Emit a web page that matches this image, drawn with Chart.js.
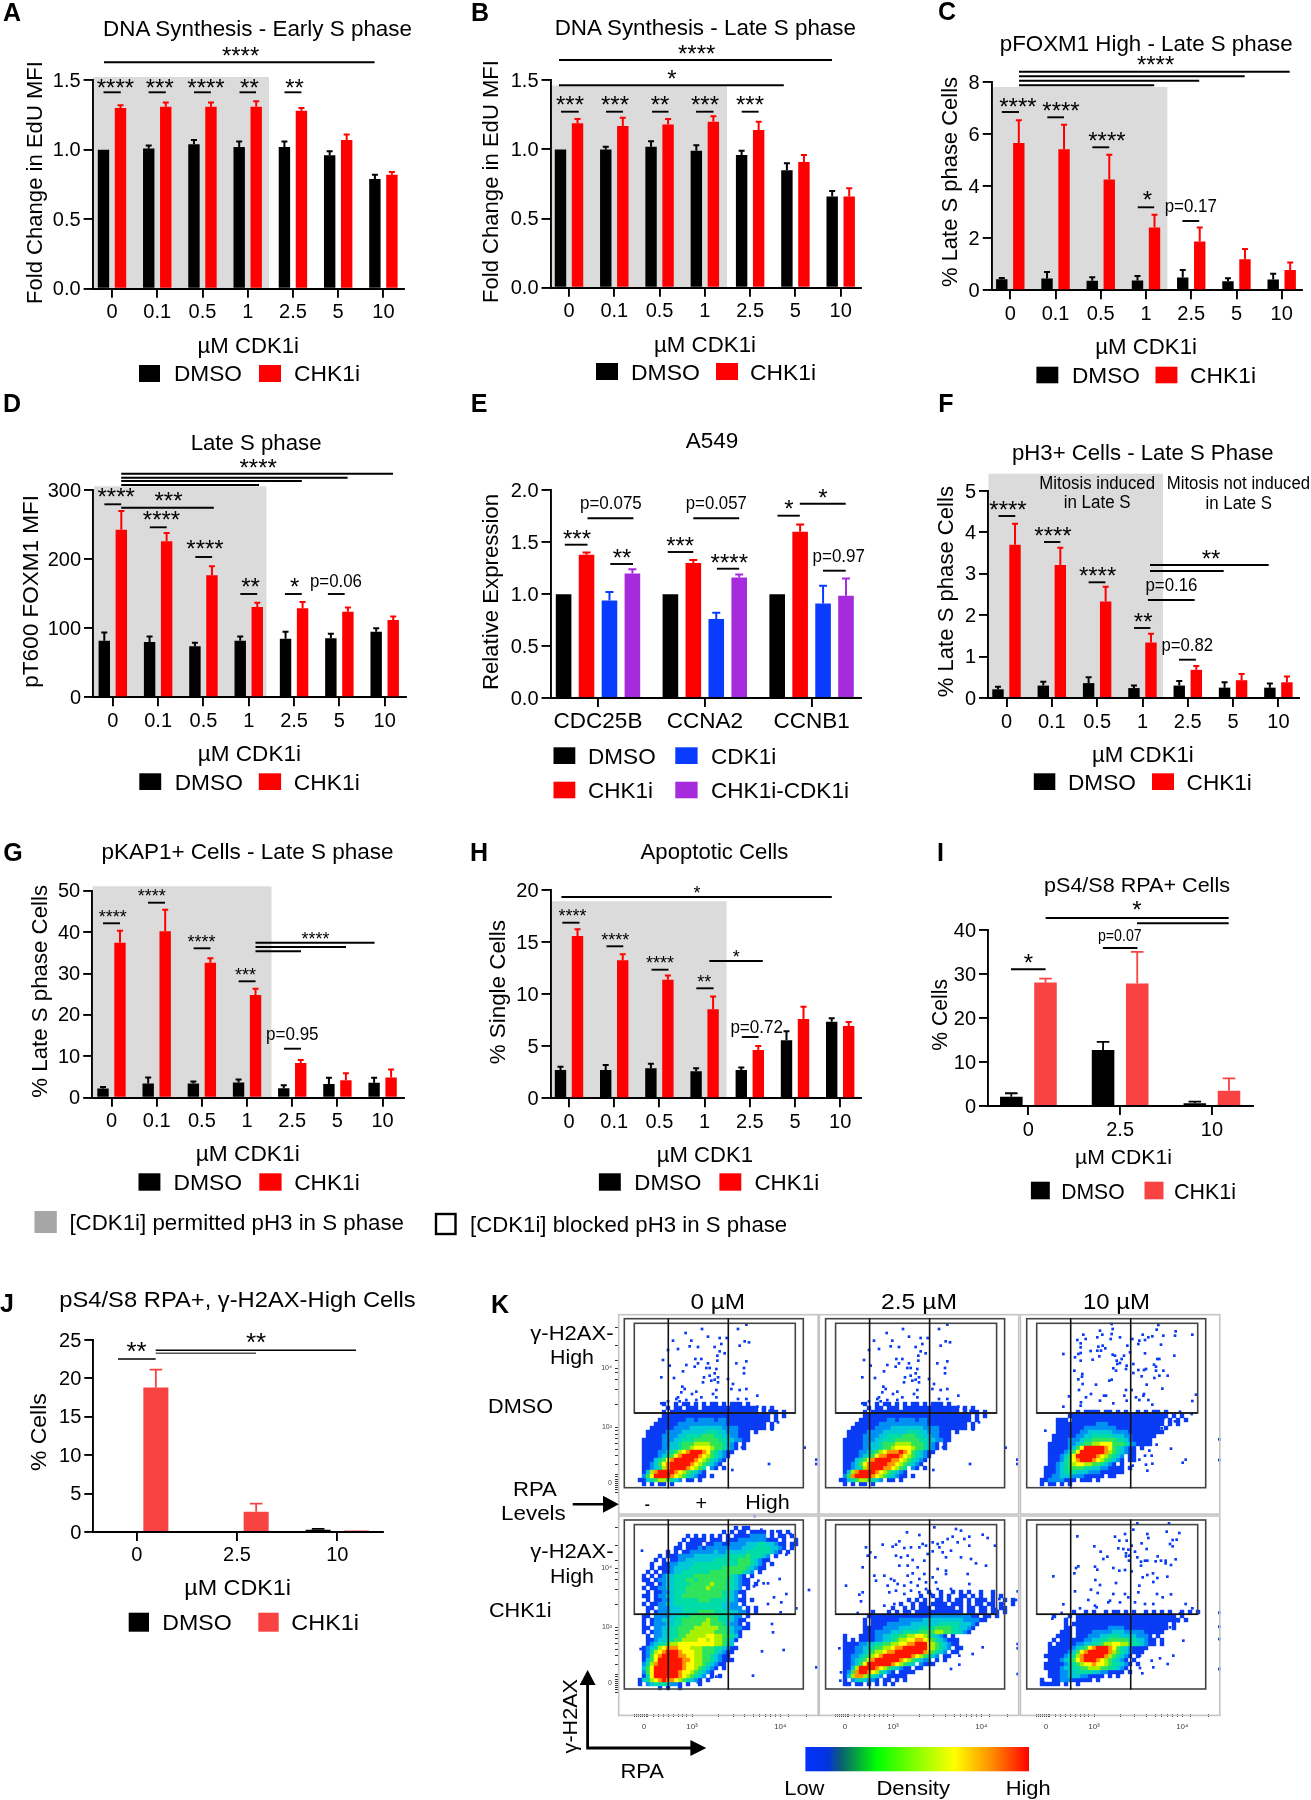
<!DOCTYPE html>
<html><head><meta charset="utf-8">
<style>
html,body{margin:0;padding:0;background:#fff}
#page{position:relative;width:1311px;height:1800px;overflow:hidden;background:#fff}
canvas{position:absolute}
svg{position:absolute;left:0;top:0;z-index:5}
text{font-family:"Liberation Sans",Arial,sans-serif;fill:#000}
</style>
<script src="https://cdn.jsdelivr.net/npm/chart.js@4/dist/chart.umd.js"></script>
</head><body><div id="page"><svg id="ov" width="1311" height="1800" xmlns="http://www.w3.org/2000/svg"></svg></div>
<script>
/* ---------- values ---------- */
const doses=['0','0.1','0.5','1','2.5','5','10'];
const doses3=['0','2.5','10'];
const genes=['CDC25B','CCNA2','CCNB1'];

const aTicks=['0.0','0.5','1.0','1.5'];
const aDmso=[1.0,1.01,1.04,1.02,1.02,0.96,0.79];
const aDmsoTop=[1.0,1.03,1.07,1.06,1.06,0.99,0.82];
const aChk=[1.30,1.31,1.31,1.31,1.28,1.07,0.82];
const aChkTop=[1.32,1.34,1.34,1.35,1.30,1.11,0.84];

const bTicks=['0.0','0.5','1.0','1.5'];
const bDmso=[1.0,1.0,1.02,0.99,0.96,0.85,0.66];
const bDmsoTop=[1.0,1.02,1.06,1.03,0.99,0.90,0.70];
const bChk=[1.19,1.17,1.18,1.20,1.14,0.91,0.66];
const bChkTop=[1.22,1.23,1.22,1.24,1.20,0.96,0.72];

const cTicks=['0','2','4','6','8'];
const cDmso=[0.42,0.45,0.37,0.38,0.49,0.35,0.41];
const cDmsoTop=[0.47,0.70,0.50,0.55,0.78,0.46,0.64];
const cChk=[5.66,5.42,4.26,2.41,1.87,1.19,0.78];
const cChkTop=[6.53,6.36,5.21,2.90,2.41,1.59,1.07];

const dTicks=['0','100','200','300'];
const dDmso=[82,80,74,82,85,85.5,95];
const dDmsoTop=[94,88,79,88,95,92,100];
const dChk=[243,226,177,131,129,124,112];
const dChkTop=[270,238,190,137,138,130,117];

const eTicks=['0.0','0.5','1.0','1.5','2.0'];
const eDmso=[1,1,1];
const eChk=[1.38,1.30,1.60];
const eChkTop=[1.40,1.33,1.67];
const eCdk=[0.94,0.76,0.91];
const eCdkTop=[1.02,0.82,1.08];
const eBoth=[1.20,1.16,0.985];
const eBothTop=[1.24,1.19,1.15];

const fTicks=['0','1','2','3','4','5'];
const fDmso=[0.21,0.30,0.36,0.24,0.30,0.25,0.25];
const fDmsoTop=[0.27,0.39,0.50,0.30,0.41,0.38,0.35];
const fChk=[3.70,3.21,2.33,1.34,0.68,0.43,0.38];
const fChkTop=[4.21,3.63,2.69,1.55,0.77,0.58,0.52];

const gTicks=['0','10','20','30','40','50'];
const gDmso=[2.2,3.4,3.4,3.7,2.3,3.3,3.6];
const gDmsoTop=[2.6,4.9,3.9,4.4,3.0,4.8,4.8];
const gChk=[37.4,40.2,32.6,24.8,8.4,4.2,4.9];
const gChkTop=[40.3,45.4,33.7,26.3,9.1,5.9,6.8];

const hTicks=['0','5','10','15','20'];
const hDmso=[2.72,2.72,2.88,2.6,2.72,5.58,7.37];
const hDmsoTop=[3.04,3.2,3.33,2.9,2.95,6.44,7.7];
const hChk=[15.6,13.27,11.4,8.56,4.65,7.63,6.96];
const hChkTop=[16.25,13.85,11.8,9.8,5.03,8.8,7.34];

const iTicks=['0','10','20','30','40'];
const iDmso=[2.1,12.75,0.6];
const iDmsoTop=[2.9,14.6,1.0];
const iChk=[28.1,27.9,3.5];
const iChkTop=[29,35.1,6.3];

const jTicks=['0','5','10','15','20','25'];
const jDmso=[0,0.1,0.3];
const jDmsoTop=[0,0.1,0.4];
const jChk=[18.8,2.65,0.2];
const jChkTop=[21.15,3.7,0.2];

/* flow plots: density level per 12-channel cell (row strings, level 1 low .. 9 high) + single events */
const flowFirstRow=22;
const flowDmso0Cells=[
'           1  1 11 1 1 11 1 111 1',
'            1 11 111 11111111111111 1 1',
'           1 1111111111111111111111 1 11 1',
'           111111111111111111111111111 1 1',
'          1111111221222212211111111111 1',
'         1111112222222222221111111111 1',
'        11111122223333333322221111111 1',
'       11111222233333344433222111 1',
'       11112222334444555443322111',
'      111112223344455555544332211',
'      111112233455566665554321 1',
'      111112233455677776554321 1',
'      11112234567899987543211',
'      1111234578999987654321',
'      111345789999987654321',
'      11235789999987654321',
'      1123468999987654 21 1',
'      1368999987654321',
'      2579999876543211 1',
'     11345665432 11 1',
'      1 1 11 1'];
const flowDmso0Dots=[[385,32],[252,45],[203,57],[360,45],[270,68],[305,72],[326,72],[165,80],[220,80],[380,82],[393,85],[310,90],[215,97],[240,99],[290,99],[365,95],[150,108],[180,105],[305,112],[320,118],[298,125],[135,138],[232,135],[250,135],[298,140],[385,142],[355,148],[240,148],[205,153],[155,155],[230,158],[270,148],[265,162],[275,162],[295,165],[378,162],[195,172],[290,178],[378,178],[130,190],[168,192],[258,190],[275,185],[300,190],[290,197],[330,195],[255,205],[280,200],[345,210],[300,205],[193,218],[200,225],[385,225],[365,228],[235,233],[295,228],[285,240],[222,240],[190,235],[340,225],[180,250],[250,250],[295,250],[360,255],[385,255],[418,245],[130,268],[150,262],[175,255],[185,262],[205,258],[235,258],[340,268],[360,275],[390,280],[418,278],[435,285],[455,290],[500,295],[480,325],[462,347],[372,400],[343,468],[453,450],[560,401],[595,437],[595,450]];
const flowDmso25Cells=[
'           1  1 11 1 1 11 1 111 1',
'            1 11 111 11111111111111 1 1',
'           1 1111111111111111111111 1 11 1',
'           111111111111111111111111111 1 1',
'          1111111221222212211111111111 1',
'         1111112222222222221111111111 1',
'        11111122223333333322221111111 1',
'       11111222233333344433222111 1',
'       11112222334444555443322111',
'      111112223344455555544332211',
'      111112233455566665554321 1',
'      111112233455677776554321 1',
'      11112234567888987543211',
'      1111234578899987654321',
'      111345789999887654321',
'      11235789999887654321',
'      1123468999887654 21 1',
'      1368999987654321',
'      2589999876543211 1',
'     11345665432 11 1',
'      1 1 11 1'];
const flowDmso25Dots=flowDmso0Dots;
const flowDmso10Cells=[
'',
'',
'              1 1111 11 1 1  1 1 11 1',
'            1111111111111111111111111 1 1',
'         111 11111111111111111111111 1 1 1',
'         111111111122211111111111111 1 1',
'         11111112222222211111111111 1',
'         111111223333332222111111111',
'        11111122334444433322111111',
'        1111222344555555443211111',
'       11111223455667775554321111',
'       1111123579999987543211 1',
'       1111235799999986543211',
'       1112357999998765432 11',
'       1112457899987654321 11',
'       11234567766554321 1',
'      11123455554433221111 1',
'      11123444333222111111',
'      112233322211111 11',
'     112222111 111 1',
'     1 11 1 1'];
const flowDmso10Dots=[[275,30],[415,33],[190,62],[240,50],[278,45],[410,47],[467,52],[517,62],[465,65],[430,65],[397,67],[385,70],[368,62],[275,60],[247,62],[232,70],[197,75],[172,78],[272,75],[300,70],[337,75],[358,80],[375,78],[355,90],[182,88],[182,100],[322,95],[423,92],[235,98],[248,95],[256,103],[212,111],[232,110],[243,110],[182,117],[175,120],[130,120],[375,118],[463,125],[165,130],[238,127],[278,122],[285,125],[312,125],[305,135],[330,115],[340,150],[412,135],[418,135],[182,140],[218,137],[290,140],[300,147],[320,155],[402,152],[408,158],[292,150],[280,163],[288,170],[318,165],[355,168],[378,165],[372,168],[408,170],[430,170],[340,177],[163,170],[187,180],[186,188],[418,185],[443,185],[365,187],[403,192],[175,196],[268,200],[275,197],[228,212],[188,210],[380,212],[427,224],[318,228],[177,228],[335,228],[348,250],[372,240],[370,245],[258,245],[252,245],[213,240],[198,250],[313,245],[528,242],[147,247],[517,261],[358,258],[385,258],[183,265],[240,260],[280,268],[320,260],[397,272],[130,278],[182,275],[480,293],[515,300],[465,322],[432,312],[425,343],[76,350],[410,392],[453,404],[388,410],[375,425],[358,437],[343,430],[395,425],[378,452],[397,449],[382,470],[338,455],[497,437],[488,446],[598,376],[598,438]];
const flowChk0FirstRow=3;
const flowChk0Cells=[
'                             1 11',
'                          1 1 11 1111 1 1 1',
'                 1 1 1 1 1 1 11112222 1 11 1',
'                1 1111 111 1112222222111 1  1',
'               1 1111 11221122223334433211 11',
'              11 1112122222222233344443321 1',
'            1 1 1122222232233333444444321 1',
'          1 11122223333333344444544432 1',
'         1 1 1122333333344444455543211',
'        1  11223333444444444445554321 1',
'        1 111233334444444455555543211',
'       1 1 11233444444455555555432 1',
'      1 1 1233444445555555554321 1',
'      11 122334445545555555443211',
'       11 12334444555556555443211 1',
'      1 11223344455555655554432 1',
'       1 11223444555555555443211',
'      11 122334455555555554432 1',
'       1 11223444444555444433211 1',
'      1 1122334444444444443322 1',
'       11 222333444444444433222 1 1',
'       1 122233344445555444433221 1',
'      11 2222334445555555444322 1',
'      1 122333445555556554433211',
'      1 12223344555556655543221 1',
'      11 223344555566666655432211',
'      1 12233445556666665554321',
'       1 2233445566666776655431',
'       11233445566667767665431',
'       1234456677777777766543',
'      123467888777666555443211',
'      12467899987776655543211',
'      1257899998877665543211',
'      13579999998876655432111',
'      246899999987766543211',
'      3579999999877654321 1',
'      257999999877654321',
'      1479999998765432 1 1',
'     1346789887654321 1',
'     1 234443221 1  1',
'          1 1  1'];
const flowChk0Dots=[[410,6],[72,110],[430,47],[517,60],[478,52],[505,122],[485,195],[421,200],[437,208],[450,208],[408,217],[573,228],[468,250],[505,240],[490,265],[450,270],[535,283],[488,295],[462,330],[465,355],[432,412],[497,408],[68,405],[595,460],[405,485],[295,488],[280,490],[240,505]];
const flowChk25FirstRow=19;
const flowChk25Cells=[
'                           1  1  1 1 1  1  1',
'                         1  1 1 1  11 1 1  1 1',
'                      1 1 1  11 1 11 1 111 1  1 1',
'                    1  1 11 1111 111 1 11 11 1  1',
'                  1  1 1 111 11111 1 11 11 1 11',
'             1   1 1 11 111111111111 11 11 11 1',
'            1111111111111111222222222211 11 1',
'           1 11111112222223333333333222211',
'           1 111122222233333334444433321',
'           1111122223333344445555443321',
'           111222233344445555665544321',
'      1   1111223344556677654321 1',
'      1 1 1111223345667788765432111',
'      11112233445566778899976543211',
'      111223345566788999999765432 11',
'      11122345667889999999865432 11',
'      112234567899999998765432 11',
'      1123457899999987654322 1 1',
'      112357999999876543 2111',
'      11369999876543211 11',
'      1258998764321 1111',
'      1368865432 11111',
'      1 2343221 11 1 1',
'      11 11 1 1 1 1'];
const flowChk25Dots=[[346,40],[264,55],[301,63],[411,45],[426,50],[451,68],[491,62],[506,72],[241,82],[191,92],[221,98],[231,92],[141,100],[528,95],[154,115],[146,125],[169,130],[256,102],[276,100],[231,125],[246,130],[266,125],[281,138],[301,100],[311,90],[321,95],[341,85],[356,90],[371,85],[386,75],[401,68],[416,85],[436,75],[451,95],[361,100],[371,115],[396,110],[426,130],[456,135],[471,148],[501,155],[131,160],[241,155],[266,155],[296,160],[316,140],[326,120],[341,112],[381,130],[356,165],[381,180],[446,180],[166,185],[196,185],[216,195],[226,200],[266,185],[281,178],[301,195],[316,180],[341,190],[81,215],[171,200],[206,215],[236,210],[256,215],[276,205],[296,215],[321,205],[351,205],[381,170],[451,210],[121,242],[131,235],[211,235],[231,230],[256,240],[276,230],[301,235],[321,225],[336,240],[356,225],[396,225],[126,262],[196,275],[226,270],[116,297],[541,255],[591,258],[596,232],[551,270],[531,285],[596,390],[596,403],[491,400],[461,420],[421,425],[396,465],[421,452],[596,480],[64,500],[61,403],[76,365],[66,475]];
const flowChk10FirstRow=24;
const flowChk10Cells=[
'             1  1 1  1 11 1 1  1 1 1 1  1 1 1',
'        1   1 1111111111111111111111111 1',
'           1  11111111111111111111111111 1',
'           1 111111111111111111111111 1',
'           11 11111111222211111111111 1',
'          111 1111222223332222211111',
'         1111 1112223344433332221 1',
'        1 111111223344555554433211 1',
'       1 1111122334456677665443211 1',
'       1111112345789998754321111',
'       111112357899999865432111',
'      1111123468999998654321 1',
'       11123457899987654321 1',
'      1111123456778776544321 1',
'      111123344556665544321',
'       1112233444433221111 1',
'       11122333221111 1 1',
'     1  1122211111 1',
'     11111 1  1'];
const flowChk10Dots=[[352,28],[447,28],[440,53],[478,57],[315,60],[340,47],[382,60],[385,72],[172,67],[285,68],[298,80],[320,80],[458,78],[470,77],[365,88],[335,95],[223,97],[450,90],[295,103],[310,105],[325,107],[380,105],[458,97],[242,113],[345,113],[318,118],[318,127],[262,128],[250,135],[352,130],[328,125],[413,127],[327,140],[363,143],[375,140],[382,140],[407,142],[423,140],[437,140],[467,136],[437,148],[363,155],[453,153],[175,157],[168,162],[225,158],[232,167],[280,162],[298,170],[315,168],[335,172],[163,178],[382,183],[399,178],[368,190],[442,188],[412,192],[226,198],[100,187],[240,213],[288,207],[400,204],[358,215],[213,227],[233,237],[165,232],[315,240],[355,235],[411,240],[453,241],[280,240],[325,250],[428,250],[205,258],[270,260],[265,265],[130,271],[180,283],[225,275],[230,280],[300,265],[345,265],[375,270],[400,270],[497,270],[517,283],[125,297],[480,298],[97,314],[475,322],[140,315],[435,342],[450,340],[490,380],[360,425],[395,440],[420,433],[460,425],[443,450],[360,462],[400,460],[367,478],[598,296],[598,338],[598,375],[598,465],[70,505]];
const flowAxisLabels=['0','10³','10⁴'];
const flowXMajor=[78,222,487];
const flowXMinor=[48,54,60,66,72,84,88,105,122,137,150,165,180,192,205,300,345,378,405,425,442,458,472,510,565];
const flowYMajor=[508,340,162];
const flowYMinor=[480,488,496,502,514,520,526,534,450,425,405,388,372,360,350,270,225,195,175,140,95,40];

/* ---------- styling ---------- */
const FONT='"Liberation Sans",Arial,sans-serif';
const RED='#ff0000',SOFT='#f94343',BLACK='#000000',BLUE='#0a3cff',PURPLE='#a52bdc';
const page=document.getElementById('page'),ov=document.getElementById('ov');
Chart.defaults.font.family=FONT;
Chart.defaults.color='#000';

class EdgeCategory extends Chart.CategoryScale{
  buildTicks(){const t=super.buildTicks();const e=this.options.edges;
    if(e){this._startValue=this.min-e[0];this._valueRange=this.max-this.min+e[0]+e[1];}
    return t;}
}
EdgeCategory.id='edgeCategory';
EdgeCategory.defaults=Chart.CategoryScale.defaults;
Chart.register(EdgeCategory);

function mkCanvas(r){const c=document.createElement('canvas');c.width=r[2];c.height=r[3];
  c.style.left=r[0]+'px';c.style.top=r[1]+'px';c.style.width=r[2]+'px';c.style.height=r[3]+'px';page.appendChild(c);return c;}

function barPanel(p){
  const [cx,cy,cw,ch]=p.rect,[L,T,R,B]=p.area,n=p.labels.length;
  const step=(p.last-p.first)/(n-1),edges=[(p.first-L)/step,(R-p.last)/step];
  const tf=p.tickSize||20,xf=p.xSize||tf;
  const errPlugin={id:'upperErr',afterDatasetsDraw(chart){
    const c=chart.ctx,y=chart.scales.y;
    chart.data.datasets.forEach((d,i)=>{const m=chart.getDatasetMeta(i);
      m.data.forEach((el,k)=>{const top=d.top&&d.top[k];if(top==null||top<=d.data[k])return;
        const py=y.getPixelForValue(top),hw=p.cap||3;
        c.save();c.strokeStyle=d.backgroundColor;c.lineWidth=p.errW||2;c.beginPath();
        c.moveTo(el.x,y.getPixelForValue(d.data[k]));c.lineTo(el.x,py);
        c.moveTo(el.x-hw,py);c.lineTo(el.x+hw,py);c.stroke();c.restore();});});}};
  const shadePlugin={id:'shade',beforeDraw(chart){if(!p.shade)return;const s=p.shade,c=chart.ctx;
    c.save();c.fillStyle='#dbdbdb';c.fillRect(s[0]-cx,s[1]-cy,s[2]-s[0],s[3]-s[1]);c.restore();}};
  new Chart(mkCanvas(p.rect),{type:'bar',
    data:{labels:p.labels,datasets:p.series.map(s=>({label:s.label,data:s.data,top:s.top,backgroundColor:s.color,borderWidth:0,
      categoryPercentage:p.cat,barPercentage:p.bar}))},
    plugins:[shadePlugin,errPlugin],
    options:{responsive:false,animation:false,devicePixelRatio:1,events:[],
      layout:{padding:{left:0,top:T-cy,right:cx+cw-R,bottom:0}},
      plugins:{legend:{display:false},tooltip:{enabled:false},title:{display:false}},
      scales:{
        x:{type:'edgeCategory',edges,offset:true,
          afterFit:s=>{s.height=cy+ch-B;},
          border:{color:'#000',width:1.9},
          grid:{offset:false,drawOnChartArea:false,drawTicks:true,tickLength:9,color:'#000',lineWidth:1.9},
          ticks:{autoSkip:false,maxRotation:0,minRotation:0,padding:p.xPad||3,color:'#000',font:{size:xf,family:FONT}}},
        y:{min:0,max:p.max,afterFit:s=>{s.width=L-cx;},
          border:{color:'#000',width:1.9},
          grid:{drawOnChartArea:false,drawTicks:true,tickLength:9,color:'#000',lineWidth:1.9},
          ticks:{stepSize:p.step,padding:3,labelOffset:1,color:'#000',font:{size:tf,family:FONT},callback:(v,i)=>p.ticks[i]}}
      }}});
}

const dmso=(d,t)=>({label:'DMSO',data:d,top:t,color:BLACK});
const chk=(d,t,c)=>({label:'CHK1i',data:d,top:t,color:c||RED});

barPanel({rect:[0,0,450,395],area:[92.6,80.3,404,288.7],first:112,last:383.4,labels:doses,max:1.5,step:0.5,ticks:aTicks,cat:.752,bar:.67,shade:[93,77,269,288.7],series:[dmso(aDmso,aDmsoTop),chk(aChk,aChkTop)]});
barPanel({rect:[470,0,440,395],area:[550.5,80.3,861.3,287.7],first:569,last:840.7,labels:doses,max:1.5,step:0.5,ticks:bTicks,cat:.752,bar:.67,shade:[551,85.6,727,287.7],series:[dmso(bDmso,bDmsoTop),chk(bChk,bChkTop)]});
barPanel({rect:[930,0,420,395],area:[991.7,82,1301.5,290.3],first:1010.3,last:1281.7,labels:doses,max:8,step:2,ticks:cTicks,cat:.752,bar:.67,shade:[992.5,87,1167.3,290.3],series:[dmso(cDmso,cDmsoTop),chk(cChk,cChkTop)]});
barPanel({rect:[0,420,450,380],area:[93,490.3,406,697.3],first:112.8,last:384.7,labels:doses,max:300,step:100,ticks:dTicks,cat:.752,bar:.67,shade:[94,486.3,266.4,697.3],series:[dmso(dDmso,dDmsoTop),chk(dChk,dChkTop)]});
barPanel({rect:[470,420,440,330],area:[550.5,490.3,861.3,698],first:598,last:811.6,labels:genes,max:2,step:.5,ticks:eTicks,cat:.859,bar:.68,cap:4,xSize:22.5,xPad:1,
  series:[{label:'DMSO',data:eDmso,color:BLACK},chk(eChk,eChkTop),{label:'CDK1i',data:eCdk,top:eCdkTop,color:BLUE},{label:'CHK1i-CDK1i',data:eBoth,top:eBothTop,color:PURPLE}]});
barPanel({rect:[930,420,420,380],area:[988,491,1299,698],first:1006.5,last:1278.4,labels:doses,max:5,step:1,ticks:fTicks,cat:.752,bar:.67,shade:[988.5,473.7,1163,698],series:[dmso(fDmso,fDmsoTop),chk(fChk,fChkTop)]});
barPanel({rect:[0,830,450,370],area:[92.2,890.7,404,1097.7],first:111.5,last:382.6,labels:doses,max:50,step:10,ticks:gTicks,cat:.752,bar:.67,shade:[92.5,886.3,271.5,1097.7],series:[dmso(gDmso,gDmsoTop),chk(gChk,gChkTop)]});
barPanel({rect:[470,830,440,370],area:[550.5,890.3,861.3,1098.3],first:569,last:840.2,labels:doses,max:20,step:5,ticks:hTicks,cat:.752,bar:.67,shade:[551,901.3,726.6,1098.3],series:[dmso(hDmso,hDmsoTop),chk(hChk,hChkTop)]});
barPanel({rect:[930,880,420,330],area:[988,930.3,1252.7,1106],first:1028.4,last:1211.9,labels:doses3,max:40,step:10,ticks:iTicks,cat:.745,bar:.66,cap:6.3,errW:1.8,series:[dmso(iDmso,iDmsoTop),chk(iChk,iChkTop,SOFT)]});
barPanel({rect:[0,1310,450,300],area:[93.3,1340,382.7,1532],first:136.7,last:337.3,labels:doses3,max:25,step:5,ticks:jTicks,tickSize:20,xSize:20,xPad:2,cat:.764,bar:.653,cap:6.3,errW:1.8,series:[dmso(jDmso,jDmsoTop),chk(jChk,jChkTop,SOFT)]});

/* ---------- flow plots ---------- */
const levelColors=['#0a3cf5','#0a3cf5','#0090f4','#00c8d8','#00dca8','#2fe45c','#a6f000','#ffff00','#ff9400','#ff1500'];
function flowPlot(o){
  const L=o.x,T=o.y,R=L+200,B=T+200;
  const cx=L-(o.yAxis?26:12),cy=T-12,cw=(R+12)-cx,ch=(o.xAxis?B+32:B+12)-cy;
  const sets=[];
  for(let lv=1;lv<=9;lv++){const pts=[];
    o.cells.forEach((row,r)=>{for(let c=0;c<row.length;c++){if(row[c]===String(lv))pts.push({x:12*c+6,y:12*(r+o.first)+6});}});
    sets.push({data:pts,pointStyle:'rect',pointRadius:3.1,backgroundColor:levelColors[lv],borderWidth:0,order:10-lv,clip:false});}
  sets.push({data:o.dots.map(d=>({x:d[0],y:d[1]})),pointStyle:'rect',pointRadius:1.9,backgroundColor:levelColors[0],borderWidth:0,order:20,clip:false});
  const mkTicks=(major,minor)=>s=>{s.ticks=major.map(v=>({value:v})).concat(minor.map(v=>({value:v})));};
  const cb=major=>(v)=>{const i=major.indexOf(v);return i>=0?flowAxisLabels[i]:'';};
  new Chart(mkCanvas([cx,cy,cw,ch]),{type:'scatter',data:{datasets:sets},
    options:{responsive:false,animation:false,devicePixelRatio:1,events:[],
      layout:{padding:{left:o.yAxis?0:L-cx,top:T-cy,right:cx+cw-R,bottom:o.xAxis?0:cy+ch-B}},
      plugins:{legend:{display:false},tooltip:{enabled:false}},
      scales:{
        x:{type:'linear',min:0,max:600,display:!!o.xAxis,afterBuildTicks:mkTicks(flowXMajor,flowXMinor),afterFit:s=>{s.height=o.xAxis?32:0;},
          border:{display:false},grid:{drawOnChartArea:false,tickLength:3,color:'#333',lineWidth:1},
          ticks:{autoSkip:false,maxRotation:0,minRotation:0,padding:5,color:'#444',font:{size:8,family:FONT},callback:cb(flowXMajor)}},
        y:{type:'linear',min:0,max:600,reverse:true,display:!!o.yAxis,afterBuildTicks:mkTicks(flowYMajor,flowYMinor),afterFit:s=>{s.width=o.yAxis?26:0;},
          border:{display:false},grid:{drawOnChartArea:false,tickLength:3,color:'#333',lineWidth:1},
          ticks:{autoSkip:false,padding:3,color:'#444',font:{size:7,family:FONT},callback:cb(flowYMajor)}}
      }}});
}
flowPlot({x:618,y:1314,cells:flowDmso0Cells,first:flowFirstRow,dots:flowDmso0Dots,yAxis:true});
flowPlot({x:819.3,y:1314,cells:flowDmso25Cells,first:flowFirstRow,dots:flowDmso25Dots});
flowPlot({x:1020,y:1314,cells:flowDmso10Cells,first:flowFirstRow,dots:flowDmso10Dots});
flowPlot({x:618,y:1514,cells:flowChk0Cells,first:flowChk0FirstRow,dots:flowChk0Dots,yAxis:true,xAxis:true});
flowPlot({x:819.3,y:1514,cells:flowChk25Cells,first:flowChk25FirstRow,dots:flowChk25Dots,xAxis:true});
flowPlot({x:1020,y:1514,cells:flowChk10Cells,first:flowChk10FirstRow,dots:flowChk10Dots,xAxis:true});

/* ---------- overlay text, brackets, legends ---------- */
const NS='http://www.w3.org/2000/svg';
function el(n,a,t){const e=document.createElementNS(NS,n);for(const k in a)e.setAttribute(k,a[k]);if(t!=null)e.textContent=t;ov.appendChild(e);return e;}
function T(s,cx,cy,size,w,weight,rot){const a={x:cx,y:cy+.36*size,'font-size':size,'text-anchor':'middle'};
  if(w){a.textLength=w;a.lengthAdjust='spacingAndGlyphs';}
  if(weight)a['font-weight']=weight;
  if(rot)a.transform='rotate(-90 '+cx+' '+cy+')';
  return el('text',a,s);}
const H=(s,a,b,cy,size)=>T(s,(a+b)/2,cy,size||22.5,b-a);
const V=(s,cx,a,b,size)=>T(s,cx,(a+b)/2,size||22.5,b-a,null,true);
const LET=(s,cx,cy)=>T(s,cx,cy,25,null,'bold');
function S(s,cx,cy,size){size=size||24;el('text',{x:cx,y:cy+.575*size,'font-size':size,'text-anchor':'middle'},s);}
function LN(a,b,y,w,c){el('line',{x1:a,x2:b,y1:y,y2:y,stroke:c||'#000','stroke-width':w||1.9});}
function BOX(x0,x1,y0,y1,c){el('rect',{x:x0,y:y0,width:x1-x0,height:y1-y0,fill:c});}
function P(s,a,b,cy,size){H(s,a,b,cy,size||18.5);}
function LEG(sw1,t1,sw2,t2,y0,y1,cy,c2){BOX(sw1[0],sw1[1],y0,y1,BLACK);H('DMSO',t1[0],t1[1],cy);BOX(sw2[0],sw2[1],y0,y1,c2||RED);H('CHK1i',t2[0],t2[1],cy);}

/* A */
LET('A',12,12);H('DNA Synthesis - Early S phase',103,412,28);V('Fold Change in EdU MFI',33.7,61,304);H('µM CDK1i',197.5,299,345);
LEG([139,160],[174,242],[259,281],[294,360],365,382,373);
S('****',240.6,50);LN(104,374.6,62.3);
[[115.4,103.5,120.8,'****'],[159.8,148.6,165.8,'***'],[206,194,210.9,'****'],[249.4,239.5,256,'**'],[294.6,284.5,301.4,'**']].forEach(b=>{S(b[3],b[0],81.7);LN(b[1],b[2],92.3);});
/* B */
LET('B',480,12);H('DNA Synthesis - Late S phase',554.7,856,27);V('Fold Change in EdU MFI',490,60,303);H('µM CDK1i',654,756,344);
LEG([596,618],[631,700],[716,738],[750,816],363,380,372);
S('****',696.7,47.7);LN(559,832,60);S('*',672,72.7);LN(559,783.8,85.3);
[[570,561,578.7,'***'],[615,606,623,'***'],[660,652,668.5,'**'],[705,696,713.5,'***'],[750,741.7,758.6,'***']].forEach(b=>{S(b[3],b[0],99.3);LN(b[1],b[2],111.7);});
/* C */
LET('C',947,11);H('pFOXM1 High - Late S phase',999.8,1292.7,42.7);V('% Late S phase Cells',948.8,77,287);H('µM CDK1i',1095.3,1197,345.7);
LEG([1036.4,1058.3],[1072,1140],[1155.5,1177.4],[1190,1256],366.7,383.3,375);
S('****',1155.6,59.3);LN(1019,1289.7,71.7);LN(1019,1244.7,76.3);LN(1019,1199.2,80.7);LN(1019,1154.2,85.3);
S('****',1017.9,101);LN(1001.8,1019,112);S('****',1061,105.3);LN(1047.3,1064,117.3);S('****',1106.9,135.3);LN(1092.3,1109.2,147.3);
S('*',1147.5,194.3);LN(1137.8,1154.2,207.3);P('p=0.17',1164.7,1216.9,205.7);LN(1182.4,1199.2,221);
/* D */
LET('D',12,403);H('Late S phase',190.7,321.5,442.3);V('pT600 FOXM1 MFI',30.3,495,687.7);H('µM CDK1i',197.8,301,753.3);
LEG([139.3,161.2],[174.7,242.8],[258.8,281.1],[293.8,359.8],773.3,790,781.7);
S('****',258.2,461.7);LN(121.2,393,473.7);LN(121.2,347.6,477.7);LN(121.2,301.8,481);LN(121.2,259,485);
S('****',116.2,491.3);LN(104.4,121.2,504.3);S('***',168.5,495);LN(121.2,213.8,507.7);S('****',161.5,514.3);LN(149.8,166.7,527.3);
S('****',205,543);LN(195.3,212.1,557);S('**',250.5,581.3);LN(240.3,257.2,594);S('*',294.6,581.3);LN(284.9,301.8,594);P('p=0.06',310,362,580.7);LN(327.9,344.7,594);
/* E */
LET('E',479,403);H('A549',685.8,738.4,440);V('Relative Expression',490.3,494,690);
BOX(553.5,575.3,747.3,764,BLACK);H('DMSO',588,655.7,755.7);BOX(675.3,697.6,747.3,764,BLUE);H('CDK1i',711,776.3,755.7);
BOX(553.5,575.3,781.7,798.3,RED);H('CHK1i',588,653,790);BOX(675.3,697.6,781.7,798.3,PURPLE);H('CHK1i-CDK1i',711,849,790);
P('p=0.075',580,641.8,502.7);LN(587.5,633.4,518.3);S('***',577,532.7);LN(564.8,587.5,544.7);S('**',622,552.3);LN(610.3,633,564);
P('p=0.057',685.8,746.8,502.7);LN(693.3,739.2,518.3);S('***',680.2,540);LN(667.7,693.3,552);S('****',729.3,556.7);LN(716.9,739.2,568.7);
S('*',788.9,503.3);LN(777.5,799.8,515.7);S('*',823,491.7);LN(799.8,845.7,503.7);P('p=0.97',812.5,865,555);LN(823,845.7,570.7);
/* F */
LET('F',946,403);H('pH3+ Cells - Late S Phase',1012,1273.7,451.7);V('% Late S phase Cells',944.6,486,697.3);H('µM CDK1i',1092,1193.8,754);
LEG([1033.8,1055.3],[1068,1136],[1152,1174],[1186.6,1251.9],773.3,790,781.7);
H('Mitosis induced',1039.3,1155,482.3,18);H('in Late S',1063.7,1130.6,501.7,18);H('Mitosis not induced',1166.8,1310,483,18);H('in Late S',1205.6,1272,502.7,18);
S('****',1008,503.7);LN(998.5,1015.3,516);S('****',1053,529.7);LN(1044,1060.4,542);S('****',1097.6,570);LN(1088.6,1105.4,582.3);S('**',1143.2,616.3);LN(1134,1150.4,628);
P('p=0.82',1161.4,1213,644.3);LN(1179,1195.9,659.7);P('p=0.16',1145.4,1197.5,584);LN(1147.9,1194.6,600);S('**',1211,553.3);LN(1150,1268.7,565);LN(1150,1223.7,571);
/* G */
LET('G',13,852);H('pKAP1+ Cells - Late S phase',101.4,393.5,851);V('% Late S phase Cells',38.7,885,1097.7);H('µM CDK1i',195.7,299.7,1153.3);
LEG([138.5,160.4],[173.4,242],[259.3,281.6],[294.2,359.8],1173.3,1190.7,1182);
S('****',112.8,912.7,18);LN(103,120,923.3);S('****',151.7,892,18);LN(148,165,902.7);S('****',201.4,938,18);LN(193.6,210.4,948.3);S('***',245.4,970.7,18);LN(238.6,255.5,981.3);
P('p=0.95',266,318.6,1033.3);LN(284,301,1048.7);S('****',315.5,934.3,18);LN(255.5,374.6,942.7);LN(255.5,346,947);LN(255.5,301,951.3);
BOX(34.5,56.8,1211,1233,'#a6a6a6');H('[CDK1i] permitted pH3 in S phase',69.4,404,1221.7);
el('rect',{x:436,y:1214,width:19.5,height:20,fill:'none',stroke:'#000','stroke-width':2.4});H('[CDK1i] blocked pH3 in S phase',470,787.2,1224);
/* H */
LET('H',479,852);H('Apoptotic Cells',640.6,788.3,851.3);V('% Single Cells',496.6,920,1064.3);H('µM CDK1',656.7,753,1154);
LEG([598.9,620.8],[634.3,701.3],[719.4,741.3],[754.4,819.2],1173.3,1190.7,1182);
S('*',697,888.3,18);LN(561.4,831.8,897);S('****',572.6,912,18);LN(562.3,579.5,922.7);S('****',615.2,935.7,18);LN(606.5,623.3,946.3);S('****',660,959,18);LN(651.5,668.5,969.7);
S('**',704.3,977.7,18);LN(696.3,713.6,988.3);S('*',736.3,952.7,18);LN(709.3,762.8,961);P('p=0.72',730.4,783,1026.3);LN(741.8,758.6,1037);
/* I */
LET('I',940.6,852);H('pS4/S8 RPA+ Cells',1044,1230,885,20);V('% Cells',939,979,1050.7);H('µM CDK1i',1075,1172,1156,21);
LEG([1030.9,1049.8],[1061.2,1124.7],[1144.5,1163.5],[1174,1235.9],1181.7,1199.3,1190.7,SOFT);
S('*',1137,904.3,24);LN(1045.6,1228.7,918);LN(1137,1228.7,923.3);P('p=0.07',1098,1141.6,935,17);LN(1102.9,1137.4,948);S('*',1028.4,956.7,24);LN(1011,1045.6,969.3);
/* J */
LET('J',7,1303);H('pS4/S8 RPA+, γ-H2AX-High Cells',59.3,415.7,1299.3);V('% Cells',38.3,1393.3,1471);H('µM CDK1i',184.3,291,1586.7);
LEG([128.7,149],[162.3,231.7],[258.3,278.7],[291.3,359],1612.7,1631.7,1622.3,SOFT);
S('**',256,1335.7,26);LN(155.7,356,1350.3,1.6);LN(155.7,256,1353.3,1.6,'#555');S('**',136.5,1344.7,26);LN(118,155.7,1359,1.6);

/* K frames, gates, labels */
LET('K',500,1303.8);
H('0 µM',690.4,745,1300.4);H('2.5 µM',881,957,1300.4);H('10 µM',1083,1150,1300.4);
const gateX=[0,201.3,402.4],gateY=[0,201.3];
[618.7,819.3,1020.4].forEach(x=>[1314.7,1516].forEach(y=>el('rect',{x:x,y:y,width:199.4,height:199.4,fill:'none',stroke:'#c4c4c4','stroke-width':1.6})));
gateX.forEach(dx=>gateY.forEach(dy=>{
  const g={fill:'none',stroke:'#444','stroke-width':1.6};
  el('rect',Object.assign({x:624.3+dx,y:1318.7+dy,width:179,height:169},g));
  el('rect',Object.assign({x:634.3+dx,y:1323.3+dy,width:161,height:89.7},g));
  el('line',{x1:668.3+dx,x2:668.3+dx,y1:1318+dy,y2:1488.5+dy,stroke:'#111','stroke-width':1.6});
  el('line',{x1:728.3+dx,x2:728.3+dx,y1:1318+dy,y2:1488.5+dy,stroke:'#111','stroke-width':1.6});
  el('line',{x1:634.3+dx,x2:795.3+dx,y1:1413+dy,y2:1413+dy,stroke:'#111','stroke-width':1.6});
}));
H('γ-H2AX-',530.3,613.5,1332.5,21);H('High',550,594,1356.9,21);H('DMSO',488,553,1405,21);
H('RPA',512.9,556.8,1488,21);H('Levels',501,565.8,1512.7,21);
H('-',644.5,650,1503,21);H('+',695.5,707,1502,21);H('High',745.3,789.7,1501.7,21);
H('γ-H2AX-',530.3,613.5,1550.6,21);H('High',550,594,1575,21);H('CHK1i',489,551.5,1609.8,21);
el('line',{x1:572.7,x2:605,y1:1504.3,y2:1504.3,stroke:'#000','stroke-width':2.6});
el('polygon',{points:'603,1495.8 618.8,1504.3 603,1512.8',fill:'#000'});
el('polyline',{points:'587.6,1682 587.6,1748 692,1748',fill:'none',stroke:'#000','stroke-width':2.8});
el('polygon',{points:'579.6,1685 587.6,1670 595.6,1685',fill:'#000'});
el('polygon',{points:'690.4,1740 706.3,1748 690.4,1756',fill:'#000'});
V('γ-H2AX',569,1679,1753.4,21);H('RPA',620.4,663.9,1770.3,21);
const defs=el('defs',{});const lg=document.createElementNS(NS,'linearGradient');lg.setAttribute('id','dens');
[[0,'#0433ff'],[.1,'#0433e0'],[.16,'#0a5f70'],[.32,'#00ff00'],[.45,'#66ff00'],[.665,'#ffff00'],[.83,'#ff9000'],[1,'#ff0000']].forEach(s=>{const st=document.createElementNS(NS,'stop');st.setAttribute('offset',s[0]);st.setAttribute('stop-color',s[1]);lg.appendChild(st);});
defs.appendChild(lg);
BOX(805.4,1029,1747,1771.3,'url(#dens)');
H('Low',784.2,824.5,1787,21);H('Density',876.4,950,1787,21);H('High',1005.7,1050.7,1787,21);
</script></body></html>
